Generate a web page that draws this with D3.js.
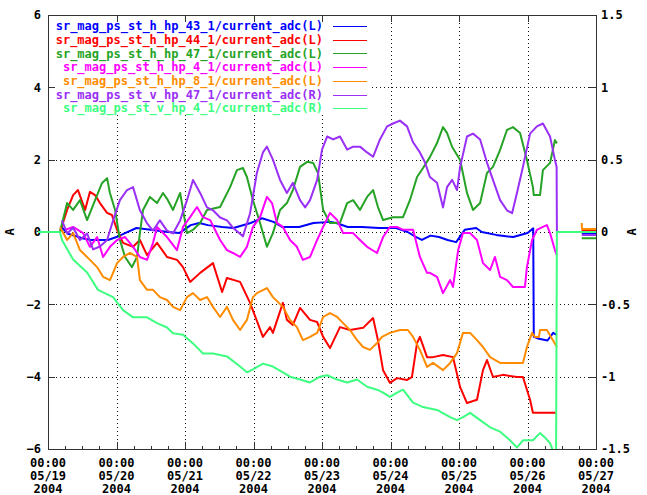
<!DOCTYPE html>
<html>
<head>
<meta charset="utf-8">
<script src="https://cdn.jsdelivr.net/npm/d3@7"></script>
<style>
  body { margin:0; background:#fff; }
  svg text { font-family:"DejaVu Sans Mono", "Liberation Mono", monospace; font-weight:bold; font-size:12px; }
</style>
</head>
<body>
<div id="chart"></div>
<script>
// hours since 05/19/2004 00:00, value ; null = gap
const dayLabels = ["05/19","05/20","05/21","05/22","05/23","05/24","05/25","05/26","05/27"];
const leftTicks = [-6,-4,-2,0,2,4,6];
const rightTicks = [-1.5,-1,-0.5,0,0.5,1,1.5];

const hp43 = [[4.5,0.15],[7,-0.05],[12,-0.17],[15,-0.22],[21,-0.22],[24,-0.14],[27,-0.03],[31,0.11],[36,0.06],[42,0],[46,-0.03],[50,0.19],[53,0.25],[56,0.19],[61,0.14],[65,0.11],[71,0.25],[75,0.38],[79,0.28],[82,0.14],[86,0.14],[88,0.14],[93,0.25],[99,0.28],[101,0.25],[105,0.14],[110,0.14],[116,0.11],[122,0.11],[126,0],[129,-0.14],[131,-0.22],[134,-0.1],[137,-0.14],[140,-0.22],[143,-0.28],[146,0.06],[150,0.11],[152,0],[157,-0.08],[163,-0.14],[168,-0.03],[170,0.1],[170.2,-2.9],[172,-2.95],[175,-3.0],[177,-2.79],[178.3,-2.85],[180,null],[187,-0.03],[192,-0.03]];

const hp44 = [[4.2,0],[6.7,0.61],[8.8,1.02],[10.5,1.16],[13,0.61],[14.7,1.11],[16.5,1.02],[18.2,0.8],[20.7,0.53],[22.4,0.47],[24.2,0.06],[26.3,-0.3],[29.8,-0.41],[32.2,-0.22],[34.7,-0.64],[38.2,-0.3],[41.7,-0.69],[45.2,-0.77],[47.3,-0.97],[49.8,-1.38],[53.3,-1.13],[57.8,-0.86],[61,-1.66],[62.7,-1.27],[67.3,-1.38],[70.8,-1.96],[75.3,-2.9],[77.8,-2.63],[78.8,-2.79],[82.3,-1.96],[83.7,-2.43],[85.8,-2.57],[88.3,-2.1],[91.8,-2.43],[94.3,-2.49],[96.4,-2.9],[98.8,-3.21],[102.3,-2.63],[105.8,-2.71],[110.4,-2.65],[113.9,-2.38],[115.6,-2.99],[117.4,-3.82],[119.8,-4.17],[122.3,-4.04],[125.8,-4.09],[127.5,-4.01],[129.3,-3.07],[130.3,-2.9],[132.8,-3.46],[134.9,-3.46],[138.4,-3.4],[141.9,-3.46],[144.4,-4.29],[146.8,-4.73],[150.3,-4.64],[152.4,-3.82],[153.8,-3.54],[155.9,-4.01],[159.4,-3.95],[164.3,-4.01],[166.4,-4.01],[168.9,-4.64],[169.9,-5.0],[178.3,-5.0],[180,null],[187,0.05],[192,0.05]];

const hp47 = [[4.2,0],[6.7,0.8],[8.8,0.61],[11.2,0.88],[13.7,0.33],[16.5,0.88],[18.9,1.35],[20.7,1.49],[21.7,1.08],[23.5,0.61],[25.2,-0.22],[27,-0.69],[29.4,-0.97],[31.2,-0.69],[32.2,-0.03],[33.3,0.61],[35.7,0.97],[38.2,0.8],[40.3,1.08],[42,0.88],[43.8,0.61],[46.3,1.08],[48.7,-0.03],[50.8,0.06],[53.3,0.25],[55.7,0.61],[60.3,0.69],[63.8,1.24],[66.2,1.71],[68.3,1.77],[69.7,1.52],[71.8,0.88],[74.3,0.25],[76.7,-0.41],[78.8,-0.03],[81.3,0.61],[83.7,0.8],[85.8,1.16],[88.3,1.8],[90.8,1.94],[92.9,1.91],[94.6,1.63],[96.4,0.61],[98.8,0.25],[102.3,0.25],[104.8,0.8],[106.9,0.88],[109.3,0.61],[111.8,0.97],[113.9,1.16],[115.6,0.69],[117.4,0.33],[120.9,0.41],[124.4,0.41],[126.8,0.88],[129.3,1.52],[131.4,1.77],[133.8,2.07],[136.3,2.46],[138.4,2.9],[139.8,2.74],[141.6,2.35],[144.4,1.99],[146.8,1.08],[148.9,0.61],[151.4,0.8],[153.8,1.63],[155.9,1.8],[158.4,2.27],[160.8,2.82],[162.9,2.9],[165.4,2.74],[167.8,1.99],[169.9,1.24],[170.2,1.02],[172.4,1.02],[173.4,1.71],[175.9,1.91],[177.6,2.54],[178.3,2.45],[180,null],[187,-0.17],[192,-0.17]];

const hp4 = [[6,0.06],[8.8,0.14],[12.3,-0.03],[14.7,-0.41],[17.2,-0.14],[19.3,-0.69],[21.7,-0.41],[24.2,-0.22],[27,-0.14],[29.8,-0.41],[32.2,-0.69],[34.7,-0.77],[36.8,-0.3],[38.2,0.14],[41.7,-0.14],[45.2,-0.5],[47.3,0.14],[49.8,0.41],[52.2,0.69],[54.3,0.41],[56.8,0.33],[60.3,-0.22],[62.7,-0.5],[64.8,-0.58],[67.3,-0.69],[69.7,-0.41],[71.8,0.14],[74.3,0.41],[76.7,0.97],[78.5,0.8],[80.2,0.25],[82.3,0.14],[84.8,-0.22],[87.2,-0.41],[89.3,-0.77],[91.8,-0.69],[94.3,-0.22],[96.4,0.14],[98.8,0.53],[101.3,0.33],[103.4,-0.03],[106.9,-0.03],[109.3,-0.22],[111.8,-0.41],[115.3,-0.58],[117.4,-0.14],[119.8,0.14],[122.3,0.14],[124.4,0.06],[127.9,0.06],[130.3,-0.69],[132.8,-1.13],[133.8,-1.13],[136.3,-1.24],[138.4,-1.69],[140.9,-1.33],[141.9,-1.52],[143.7,-0.5],[145.4,-0.03],[147.9,-0.03],[150.3,-0.22],[152.4,-0.86],[154.9,-1.05],[156.6,-0.69],[158.4,-1.24],[160.8,-1.33],[162.9,-1.52],[165.4,-1.52],[167.1,-1.52],[167.8,-0.97],[169.6,-0.22],[171.3,0.06],[173.4,0.14],[174.8,0.19],[175.9,-0.03],[177.6,-0.5],[178.3,-0.64],[180,null],[187,0],[192,0]];

const hp8 = [[4.2,0.14],[6.7,-0.22],[8.8,-0.03],[11.2,-0.5],[14.7,-0.77],[17.2,-0.97],[19.3,-1.24],[21.7,-1.33],[22.8,-1.13],[24.2,-0.86],[26.3,-0.69],[28.7,-0.58],[31.2,-0.69],[32.2,-1.33],[34.7,-1.6],[36.8,-1.6],[39.2,-1.8],[41.7,-1.88],[43.8,-2.07],[46.3,-2.16],[48.7,-1.8],[50.8,-1.69],[53.3,-1.88],[55.7,-1.8],[57.8,-2.07],[60.3,-2.35],[62.7,-2.07],[64.8,-2.43],[67.3,-2.71],[69.7,-2.43],[71.8,-1.8],[73.2,-1.69],[76.7,-1.55],[78.8,-1.8],[82.3,-2.07],[84.8,-2.43],[87.2,-2.63],[89.3,-2.99],[91.8,-2.9],[94.3,-2.79],[96.4,-2.35],[98.8,-2.24],[101.3,-2.35],[103.4,-2.52],[105.8,-2.71],[108.3,-2.99],[110.4,-3.18],[112.8,-3.26],[115.3,-3.07],[117,-2.9],[119.8,-2.79],[123.3,-2.71],[126.1,-2.71],[127.9,-2.9],[130.3,-3.26],[132.8,-3.73],[134.9,-3.62],[138.4,-3.82],[140.9,-3.62],[143.3,-3.35],[145.4,-2.79],[147.9,-2.79],[150.3,-2.99],[152.4,-3.18],[154.9,-3.46],[158.4,-3.62],[162.9,-3.62],[166.4,-3.62],[167.8,-3.18],[169.6,-2.79],[170.6,-2.9],[172,-2.9],[172.4,-2.71],[174.8,-2.71],[176.9,-2.99],[178.3,-3.18],[180,null],[187,0.25],[187.1,0.08],[192,0.08]];

// right axis series
const vhp47 = [[4.9,0.08],[6.7,-0.01],[8.8,0.03],[11.2,-0.055],[13.7,-0.01],[15.8,-0.12],[18.2,-0.1],[20.7,-0.055],[22.8,0.08],[25.2,0.22],[27.7,0.29],[29.8,0.31],[32.2,0.15],[34.7,0.06],[36.8,0.01],[39.2,0.08],[41.7,0.01],[43.8,-0.01],[46.3,0.08],[48.7,0.22],[50.8,0.36],[53.3,0.27],[55.7,0.17],[57.8,0.15],[60.3,0.1],[62.7,0.08],[64.8,0.03],[68.3,-0.03],[70.8,0.13],[73.2,0.41],[75.3,0.55],[76.7,0.59],[78.8,0.5],[81.3,0.36],[83.7,0.27],[85.8,0.34],[88.3,0.22],[90.1,0.17],[91.8,0.22],[94.3,0.36],[96,0.57],[97.8,0.66],[99.9,0.64],[102.3,0.66],[104.8,0.57],[106.9,0.59],[109.3,0.59],[111.8,0.55],[113.9,0.52],[116.3,0.64],[118.8,0.73],[120.9,0.75],[123.3,0.77],[125.8,0.73],[127.9,0.62],[130.3,0.55],[132.1,0.48],[133.8,0.38],[136.3,0.34],[138.4,0.17],[139.8,0.31],[141.6,0.36],[143.3,0.29],[144.4,0.45],[146.8,0.66],[148.9,0.68],[151.4,0.64],[153.8,0.48],[155.9,0.36],[158.4,0.22],[160.8,0.15],[162.6,0.13],[164.3,0.27],[166.4,0.45],[168.9,0.68],[171.3,0.73],[173.4,0.75],[175.9,0.66],[177.6,0.5],[178.2,0.45],[178.3,0],[180,null],[187,-0.02],[192,-0.02]];

const vhp4 = [[-3.5,0],[4.2,0],[4.9,-0.055],[8.8,-0.19],[13.7,-0.28],[17.5,-0.4],[22.8,-0.45],[26.3,-0.54],[29.8,-0.59],[34.7,-0.59],[38.2,-0.63],[41.7,-0.66],[43.8,-0.7],[47.3,-0.71],[50.8,-0.77],[54.3,-0.84],[57.8,-0.84],[62.7,-0.86],[67.3,-0.93],[69.7,-0.97],[71.8,-0.95],[75.3,-0.91],[78.8,-0.93],[82.3,-0.97],[84.8,-1.0],[88.3,-1.02],[91.8,-1.04],[95.3,-1.0],[97.8,-0.99],[101.3,-1.02],[104.8,-1.04],[108.3,-1.02],[111.8,-1.07],[115.3,-1.09],[117.4,-1.11],[119.8,-1.14],[122.3,-1.11],[124.4,-1.09],[127.9,-1.18],[131.4,-1.21],[136.3,-1.23],[140.9,-1.28],[143.3,-1.3],[145.4,-1.28],[147.9,-1.25],[151.4,-1.3],[154.9,-1.35],[158.4,-1.38],[161.9,-1.44],[164.3,-1.49],[166.4,-1.44],[169.9,-1.44],[172.4,-1.39],[174.1,-1.42],[175.9,-1.46],[176.9,-1.51],[178,-1.6],[178.3,0],[192,0]];

const seriesNames = [
  "sr_mag_ps_st_h_hp_43_1/current_adc(L)",
  "sr_mag_ps_st_h_hp_44_1/current_adc(L)",
  "sr_mag_ps_st_h_hp_47_1/current_adc(L)",
  "sr_mag_ps_st_h_hp_4_1/current_adc(L)",
  "sr_mag_ps_st_h_hp_8_1/current_adc(L)",
  "sr_mag_ps_st_v_hp_47_1/current_adc(R)",
  "sr_mag_ps_st_v_hp_4_1/current_adc(R)"
];
const seriesData = [hp43, hp44, hp47, hp4, hp8, vhp47, vhp4];
const seriesAxis = ["L","L","L","L","L","R","R"];
const colors = ["#0000ff","#ff0000","#26a326","#ff00ff","#ff8c00","#9a2ff5","#3dff80"];

const W = 647, H = 495;
const margin = { top:15, right:51, bottom:46, left:48 };
const svg = d3.select('#chart').append('svg').attr('width', W).attr('height', H);

const x = d3.scaleLinear().domain([0, 192]).range([margin.left, W - margin.right]);
const yL = d3.scaleLinear().domain([-6, 6]).range([H - margin.bottom, margin.top]);
const yR = d3.scaleLinear().domain([-1.5, 1.5]).range([H - margin.bottom, margin.top]);

const dayTicks = dayLabels.map((_, i) => i * 24);
const minorTicks = d3.range(0, 193, 6).filter(h => h % 24 !== 0);

// grid
const grid = svg.append('g').attr('stroke','#111').attr('stroke-dasharray','1,3').attr('shape-rendering','crispEdges');
grid.selectAll('line.v').data(dayTicks.slice(1, -1)).enter().append('line')
  .attr('x1', d=>Math.round(x(d))+0.5).attr('x2', d=>Math.round(x(d))+0.5)
  .attr('y1', margin.top).attr('y2', H - margin.bottom);
grid.selectAll('line.h').data(leftTicks.slice(1, -1)).enter().append('line')
  .attr('x1', margin.left).attr('x2', W - margin.right)
  .attr('y1', d=>Math.round(yL(d))+0.5).attr('y2', d=>Math.round(yL(d))+0.5);

// key box (opaque)
svg.append('rect').attr('x', margin.left+1).attr('y', margin.top+1).attr('width', 323).attr('height', 99).attr('fill','#fff');

// axes
const axisG = svg.append('g').attr('shape-rendering','crispEdges');
axisG.append('g').attr('transform',`translate(0,${H - margin.bottom})`).call(d3.axisBottom(x).tickValues(dayTicks).tickSize(-7).tickFormat(''));
axisG.append('g').attr('transform',`translate(0,${H - margin.bottom})`).call(d3.axisBottom(x).tickValues(minorTicks).tickSize(-3).tickFormat(''));
axisG.append('g').attr('transform',`translate(0,${margin.top})`).call(d3.axisTop(x).tickValues(dayTicks).tickSize(-7).tickFormat(''));
axisG.append('g').attr('transform',`translate(${margin.left},0)`).call(d3.axisLeft(yL).tickValues(leftTicks).tickSize(-7).tickPadding(7).tickFormat(d3.format('d')));
axisG.append('g').attr('transform',`translate(${W - margin.right},0)`).call(d3.axisRight(yR).tickValues(rightTicks).tickSize(-7).tickPadding(5).tickFormat(d=>String(d)));
axisG.selectAll('.domain').remove();
axisG.selectAll('.tick line').attr('stroke','#333');
axisG.selectAll('text').attr('font-family',null).attr('font-size',null).attr('fill','#000');

// x labels
const xl = svg.append('g');
dayLabels.forEach((lab, i) => {
  const t = xl.append('text').attr('text-anchor','middle').attr('x', x(dayTicks[i]));
  ["00:00", lab, "2004"].forEach((s, k) => t.append('tspan').attr('x', x(dayTicks[i])).attr('y', 467 + k*13).text(s));
});

// border
svg.append('rect').attr('x', margin.left+0.5).attr('y', margin.top+0.5)
  .attr('width', W - margin.left - margin.right).attr('height', H - margin.top - margin.bottom)
  .attr('fill','none').attr('stroke','#333');

// axis titles
svg.append('text').attr('transform',`translate(14,${yL(0)}) rotate(-90)`).attr('text-anchor','middle').text('A');
svg.append('text').attr('transform',`translate(636,${yL(0)}) rotate(-90)`).attr('text-anchor','middle').text('A');

// series
svg.append('clipPath').attr('id','clip').append('rect').attr('x', 30).attr('y', margin.top).attr('width', W - margin.right - 30).attr('height', H - margin.top - margin.bottom);
const plot = svg.append('g').attr('clip-path','url(#clip)');
seriesData.forEach((data, i) => {
  const y = seriesAxis[i] === 'L' ? yL : yR;
  const line = d3.line().defined(d => d[1] !== null).x(d => x(d[0])).y(d => y(d[1]));
  plot.append('path').datum(data).attr('d', line).attr('fill','none').attr('stroke', colors[i]).attr('stroke-width', 2).attr('stroke-linejoin','round');
});

// legend
const key = svg.append('g');
seriesNames.forEach((name, i) => {
  const yy = 26 + i * 13.7;
  key.append('text').attr('x', 323).attr('y', yy).attr('dy','0.35em').attr('text-anchor','end').attr('fill', colors[i]).text(name);
  key.append('line').attr('x1', 333).attr('x2', 367).attr('y1', Math.round(yy)+0.5).attr('y2', Math.round(yy)+0.5).attr('stroke', colors[i]).attr('stroke-width', 1);
});
</script>
</body>
</html>
